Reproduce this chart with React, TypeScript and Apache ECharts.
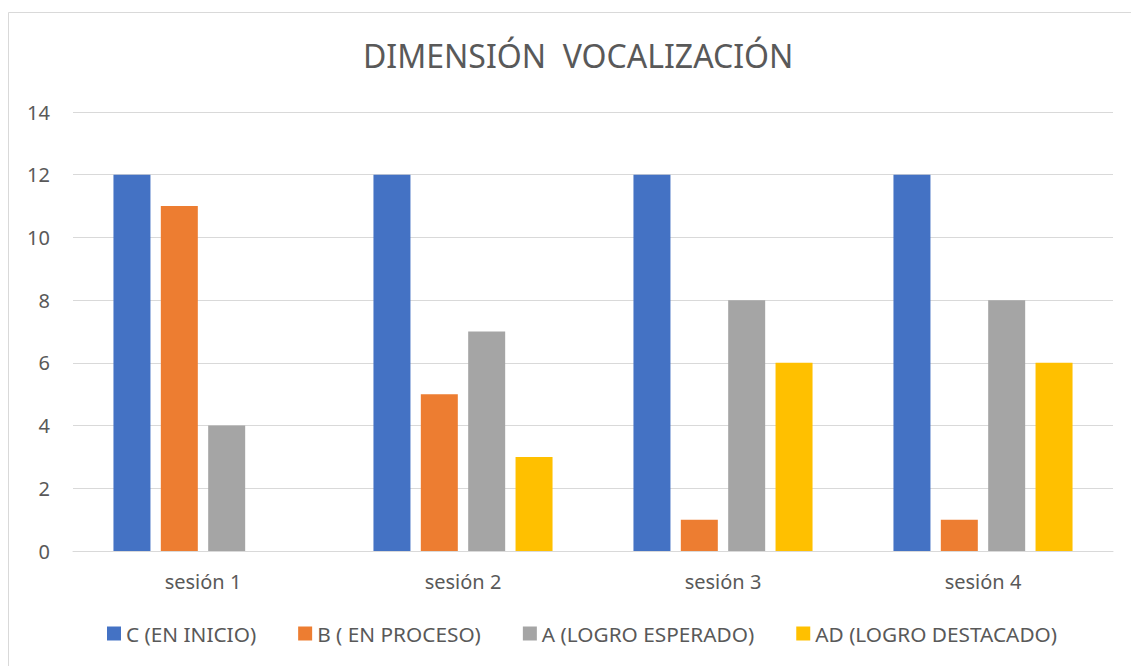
import React, { useEffect, useRef } from "react";
import * as echarts from "echarts";

const categories = ["sesión 1", "sesión 2", "sesión 3", "sesión 4"];
const seriesNames = ["C (EN INICIO)", "B ( EN PROCESO)", "A (LOGRO ESPERADO)", "AD (LOGRO DESTACADO)"];
const cValues = [12, 12, 12, 12];
const bValues = [11, 5, 1, 1];
const aValues = [4, 7, 8, 8];
const adValues = [0, 3, 6, 6];
const colors = ["#4472C4", "#ED7D31", "#A5A5A5", "#FFC000"];
const titleText = "DIMENSIÓN  VOCALIZACIÓN";

const FONT = "'Noto Sans', 'Open Sans', sans-serif";

export default function App() {
  const ref = useRef<HTMLDivElement>(null);
  useEffect(() => {
    document.body.style.margin = "0";
    const chart = echarts.init(ref.current!, null, { renderer: "svg" });
    const values = [cValues, bValues, aValues, adValues];
    chart.setOption({
      animation: false,
      backgroundColor: "#ffffff",
      textStyle: { fontFamily: FONT },
      title: {
        text: titleText,
        left: 358,
        top: 34,
        textStyle: { fontFamily: FONT, fontSize: 32, fontWeight: "normal", color: "#595959" },
      },
      graphic: [
        {
          type: "rect",
          shape: { x: 8.5, y: 12.5, width: 1200, height: 700 },
          style: { fill: "none", stroke: "#d9d9d9", lineWidth: 1 },
          silent: true,
          z: -1,
        },
      ],
      legend: {
        bottom: 17,
        left: 102,
        itemWidth: 14,
        itemHeight: 14,
        itemGap: 42,
        icon: "rect",
        textStyle: { fontFamily: FONT, fontSize: 20.8, color: "#595959" },
        data: seriesNames,
      },
      grid: { left: 73, right: 18, top: 112, bottom: 115, containLabel: false },
      xAxis: {
        type: "category",
        data: categories,
        axisLine: { show: true, lineStyle: { color: "#d9d9d9", width: 1 } },
        axisTick: { show: false },
        axisLabel: { fontFamily: FONT, fontSize: 20, color: "#595959", margin: 20 },
      },
      yAxis: {
        type: "value",
        min: 0,
        max: 14,
        interval: 2,
        axisLine: { show: false },
        axisTick: { show: false },
        splitLine: { lineStyle: { color: "#d9d9d9", width: 1 } },
        axisLabel: { fontFamily: FONT, fontSize: 20, color: "#595959", margin: 23 },
      },
      series: seriesNames.map((name, i) => ({
        name,
        type: "bar",
        data: values[i],
        barWidth: 37,
        barGap: "28%",
        itemStyle: { color: colors[i] },
      })),
    });
    return () => chart.dispose();
  }, []);
  return <div ref={ref} style={{ width: 1131, height: 666 }} />;
}
